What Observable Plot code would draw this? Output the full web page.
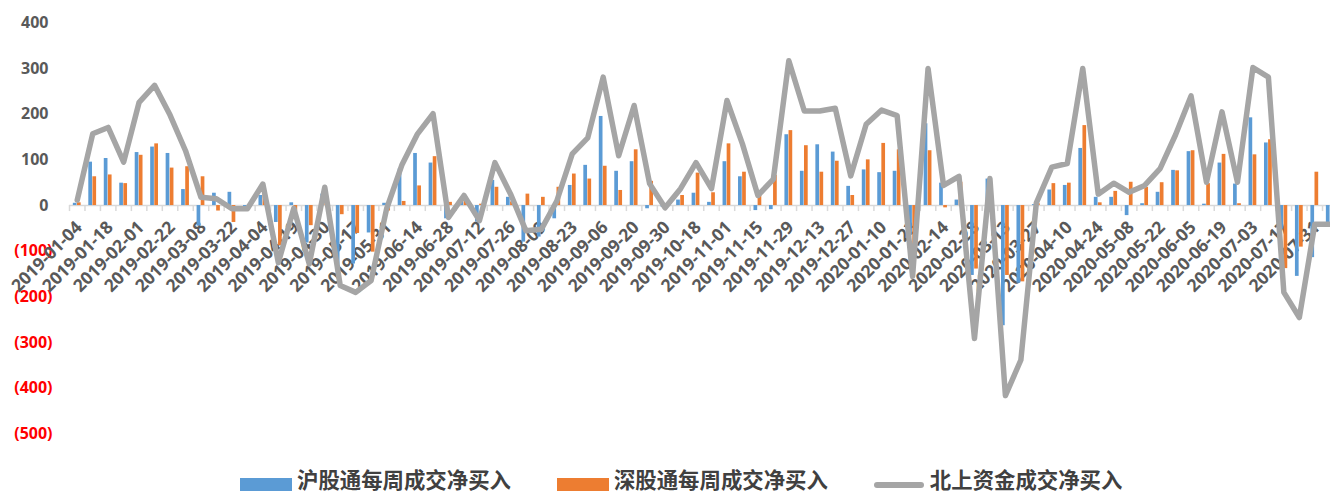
<!DOCTYPE html>
<html><head><meta charset="utf-8">
<script src="https://cdn.jsdelivr.net/npm/d3@7"></script>
<script src="https://cdn.jsdelivr.net/npm/@observablehq/plot@0.6"></script>
<style>
body{margin:0;background:#fff;}
#chart{width:1330px;height:494px;overflow:hidden;background:#fff}
#chart svg{display:block}
.legend{display:flex;align-items:flex-start;height:31px;padding-left:240px;font-weight:700;font-size:21.4px;color:#404040;font-family:"Noto Sans CJK SC","Open Sans",sans-serif;white-space:nowrap}
.item{display:flex;align-items:flex-start;margin-right:46px;height:31px}
.item span{display:inline-block;height:31px;line-height:31px}
.sw{width:52px;height:13px;margin-right:5px;margin-top:15px}
.ln{width:50px;height:6px;border-radius:3px;margin-right:6px;margin-top:18.5px;background:#A5A5A5}
</style></head><body><div id="chart"></div>
<script>
const weeks = ["2019-01-04","2019-01-11","2019-01-18","2019-01-25","2019-02-01","2019-02-15","2019-02-22","2019-03-01","2019-03-08","2019-03-15",
"2019-03-22","2019-03-29","2019-04-04","2019-04-12","2019-04-19","2019-04-26","2019-04-30","2019-05-10","2019-05-17","2019-05-24",
"2019-05-31","2019-06-06","2019-06-14","2019-06-21","2019-06-28","2019-07-05","2019-07-12","2019-07-19","2019-07-26","2019-08-02",
"2019-08-09","2019-08-16","2019-08-23","2019-08-30","2019-09-06","2019-09-12","2019-09-20","2019-09-27","2019-09-30","2019-10-11",
"2019-10-18","2019-10-25","2019-11-01","2019-11-08","2019-11-15","2019-11-22","2019-11-29","2019-12-06","2019-12-13","2019-12-20",
"2019-12-27","2020-01-03","2020-01-10","2020-01-17","2020-01-23","2020-02-07","2020-02-14","2020-02-21","2020-02-28","2020-03-06",
"2020-03-13","2020-03-20","2020-03-27","2020-04-03","2020-04-10","2020-04-17","2020-04-24","2020-04-30","2020-05-08","2020-05-15",
"2020-05-22","2020-05-29","2020-06-05","2020-06-12","2020-06-19","2020-06-24","2020-07-03","2020-07-10","2020-07-17","2020-07-24",
"2020-07-31","2020-08-07"];

const tickLabels = ["2019-01-04","2019-01-18","2019-02-01","2019-02-22","2019-03-08","2019-03-22","2019-04-04","2019-04-19","2019-04-30","2019-05-17",
"2019-05-31","2019-06-14","2019-06-28","2019-07-12","2019-07-26","2019-08-09","2019-08-23","2019-09-06","2019-09-20","2019-09-30",
"2019-10-18","2019-11-01","2019-11-15","2019-11-29","2019-12-13","2019-12-27","2020-01-10","2020-01-23","2020-02-14","2020-02-28",
"2020-03-13","2020-03-27","2020-04-10","2020-04-24","2020-05-08","2020-05-22","2020-06-05","2020-06-19","2020-07-03","2020-07-17",
"2020-07-31"];

// 沪股通每周成交净买入
const shValues = [5,95,103,49,116,128,114,35,-45,27,
29,-3,22,-37,6,-82,25,-155,-128,-60,
5,80,114,93,-29,12,-36,55,18,-80,
-69,-29,44,88,195,75,96,-7,-4,12,
27,7,96,63,-11,-9,155,75,133,117,
42,78,72,75,-65,179,49,12,-153,58,
-263,-170,2,34,44,125,18,18,-22,4,
29,77,118,3,93,47,192,137,-52,-155,
-114,-40];

// 深股通每周成交净买入
const szValues = [6,63,67,48,110,135,82,85,63,-12,
-37,-4,25,-88,-12,-44,15,-20,-61,-102,
-12,9,43,107,7,10,3,40,8,25,
18,40,69,58,86,33,122,53,0,22,
71,28,135,73,33,66,164,131,73,97,
22,100,136,122,-90,120,-5,51,-139,1,
-153,-167,4,48,49,175,6,31,51,40,
50,76,120,48,112,4,111,144,-138,-91,
73,0];

// 北上资金成交净买入
const northValues = [12,157,171,95,226,263,198,120,18,15,
-7,-7,47,-125,-6,-128,40,-175,-190,-164,
-7,90,157,201,-26,22,-33,94,26,-55,
-52,10,113,148,281,109,219,48,-5,37,
94,37,230,135,22,58,317,207,207,213,
65,178,209,197,-155,300,44,64,-291,59,
-416,-338,6,84,92,300,25,49,29,44,
81,155,240,51,205,51,302,281,-190,-245,
-41,-41];

const yTicks = [400,300,200,100,0,-100,-200,-300,-400,-500];
const seriesNames = ["沪股通每周成交净买入","深股通每周成交净买入","北上资金成交净买入"];
const colors = ["#5B9BD5","#ED7D31","#A5A5A5"];

const rows = weeks.map((w,i)=>({week:w, sh:shValues[i], sz:szValues[i], north:northValues[i]}));

const X0 = 69, X1 = 1337.5;
const bw = (X1 - X0) / weeks.length;
const barW = 3.7;
const font = "'Open Sans','Noto Sans CJK SC',sans-serif";

const chart = Plot.plot({
  width: 1330, height: 463,
  marginLeft: 69, marginRight: 0, marginTop: 0, marginBottom: 0,
  style: {fontFamily: font, background: "#fff", overflow: "hidden"},
  x: {type: "band", domain: weeks, range: [X0, X1], padding: 0, axis: null},
  y: {domain: [-500, 400], range: [433.5, 22.3], axis: null},
  marks: [
    Plot.text(yTicks.filter(d => d >= 0), {y: d => d, text: d => d3.format(",")(d), frameAnchor: "left", textAnchor: "end", dx: -21, fill: "#595959", fontSize: 16, fontWeight: "bold"}),
    Plot.text(yTicks.filter(d => d < 0), {y: d => d, text: d => "(" + d3.format(",")(-d) + ")", frameAnchor: "left", textAnchor: "end", dx: -17, fill: "#FF0000", fontSize: 16, fontWeight: "bold"}),
    Plot.text(tickLabels, {x: d => d, y: () => 0, text: d => d, rotate: -45, textAnchor: "end", lineAnchor: "middle", dx: 2, dy: 19, fill: "#595959", fontSize: 17.5, fontWeight: "bold"}),
    Plot.ruleY([0], {stroke: "#D9D9D9", strokeWidth: 1.5}),
    Plot.ruleX(weeks, {x: d => d, y1: () => 0, y2: () => 0, dx: -bw / 2, insetBottom: -6, stroke: "#D9D9D9", strokeWidth: 1.5}),
    Plot.barY(rows, {x: "week", y1: () => 0, y2: "sh", fill: colors[0], insetLeft: bw / 2 - barW - 0.2, insetRight: bw / 2 + 0.2}),
    Plot.barY(rows, {x: "week", y1: () => 0, y2: "sz", fill: colors[1], insetLeft: bw / 2 + 0.2, insetRight: bw / 2 - barW - 0.2}),
    Plot.lineY(rows, {x: "week", y: "north", stroke: colors[2], strokeWidth: 5.5, strokeLinejoin: "round", strokeLinecap: "round"})
  ]
});

const root = document.getElementById("chart");
root.appendChild(chart);
const legend = document.createElement("div");
legend.className = "legend";
seriesNames.forEach((name, i) => {
  const item = document.createElement("div");
  item.className = "item";
  const sw = document.createElement("div");
  if (i < 2) { sw.className = "sw"; sw.style.background = colors[i]; }
  else { sw.className = "ln"; }
  const t = document.createElement("span");
  t.textContent = name;
  item.appendChild(sw); item.appendChild(t);
  legend.appendChild(item);
});
root.appendChild(legend);
</script></body></html>
